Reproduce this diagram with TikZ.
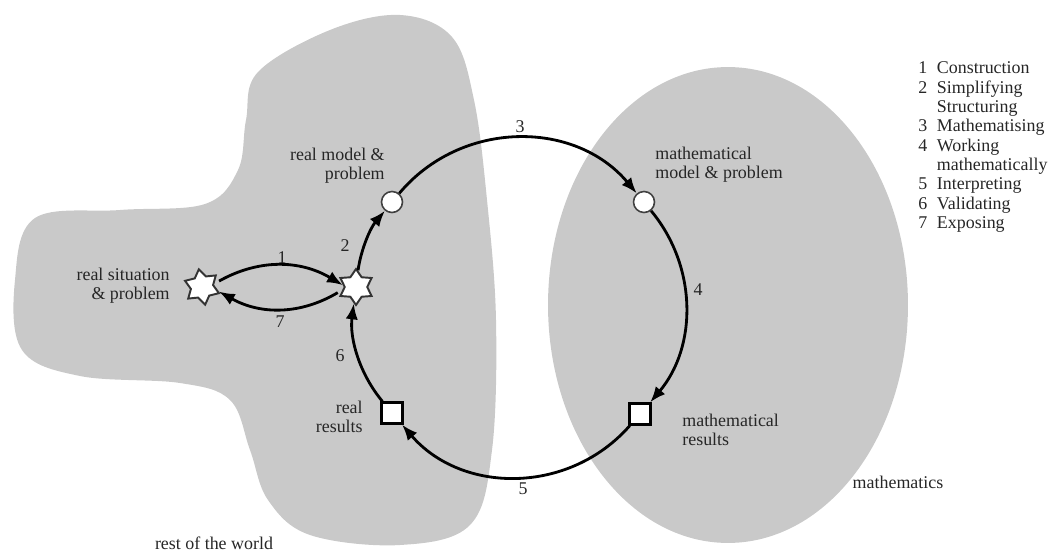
\documentclass[tikz,border=0pt]{standalone}
\usepackage{fontspec}
\setmainfont{Liberation Serif}
\usetikzlibrary{shapes.geometric,arrows.meta}
\definecolor{blobgray}{RGB}{201,201,201}
\begin{document}
\begin{tikzpicture}[x=0.02cm,y=0.02cm,
  every node/.style={font=\fontsize{10.2}{11}\selectfont, text=black!85},
  region/.style={fill=blobgray, draw=none},
  modelnode/.style={circle, draw=black!75, line width=0.9pt, fill=white, minimum size=0.42cm, inner sep=0pt},
  resultnode/.style={rectangle, draw=black, line width=1.3pt, fill=white, minimum size=0.42cm, inner sep=0pt},
  sitnode/.style={star, star points=6, star point ratio=1.6, draw=black!80, line width=1.1pt, fill=white, minimum size=0.72cm, inner sep=0pt},
  flow/.style={-{Latex[length=9pt,width=7pt]}, line width=1.6pt, black},
  lbl/.style={inner sep=0pt},
  num/.style={inner sep=0pt},
]
\useasboundingbox (0,0) rectangle (1049,-551);
% regions
\fill[region] plot[smooth cycle, tension=0.6] coordinates {(258,-72) (330,-30) (400,-15) (452,-37) (474,-100) (487,-200) (496,-320) (492,-450) (470,-525) (400,-545) (310,-535) (268,-500) (250,-450) (230,-400) (180,-383) (80,-376) (22,-350) (15,-280) (35,-218) (120,-210) (205,-204) (238,-170) (246,-120)};
\fill[region] (728,-305) ellipse [x radius=3.6cm, y radius=4.76cm];
% nodes
\node[sitnode, shape border rotate=10] (S1) at (202,-287) {};
\node[sitnode] (S2) at (356,-287) {};
\node[modelnode] (M1) at (392,-202) {};
\node[modelnode] (M2) at (644,-202) {};
\node[resultnode] (R2) at (392,-413) {};
\node[resultnode] (R1) at (640,-414) {};
% connectors
\draw[flow, shorten <=3pt] (S1.15) to[bend left=30] (S2.172);
\draw[flow, shorten <=3pt] (S2.192) to[bend left=30] (S1.-15);
\draw[flow] (M1) to[bend left=50, looseness=1.04] (M2);
\draw[flow] (M2) to[bend left=40, looseness=0.97] (R1);
\draw[flow] (R1) to[bend left=49, looseness=1.03] (R2);
\draw[flow] (R2) to[bend left=23.5, looseness=0.89] (S2);
\draw[flow] (S2) to[bend left=16, looseness=0.87] (M1);
% labels
\node[lbl, align=right, anchor=east] (tRM) at (385,-166) {real model \&\\problem};
\node[lbl, align=right, anchor=east] (tRS) at (170,-286) {real situation\\\& problem};
\node[lbl, align=left, anchor=west] (tMM) at (655,-165) {mathematical\\model \& problem};
\node[lbl, align=right, anchor=east] (tRR) at (363,-417) {real\\results};
\node[lbl, align=left, anchor=west] (tMR) at (682,-430) {mathematical\\results};
\node[lbl] (tM) at (898,-482) {mathematics};
\node[lbl] (tW) at (214,-543) {rest of the world};
% step numbers
\node[num] (n1) at (282,-258) {1};
\node[num] (n2) at (345,-246) {2};
\node[num] (n3) at (520,-127) {3};
\node[num] (n4) at (698,-290) {4};
\node[num] (n5) at (523,-489) {5};
\node[num] (n6) at (340,-356) {6};
\node[num] (n7) at (280,-322) {7};
% legend
\node[anchor=north west, inner sep=0pt] (legend) at (918,-60) {\begin{tabular}{@{}l@{\hspace{5.5pt}}l@{}}
1 & Construction\\
2 & Simplifying\\
  & Structuring\\
3 & Mathematising\\
4 & Working\\
  & mathematically\\
5 & Interpreting\\
6 & Validating\\
7 & Exposing
\end{tabular}};
\end{tikzpicture}
\end{document}
